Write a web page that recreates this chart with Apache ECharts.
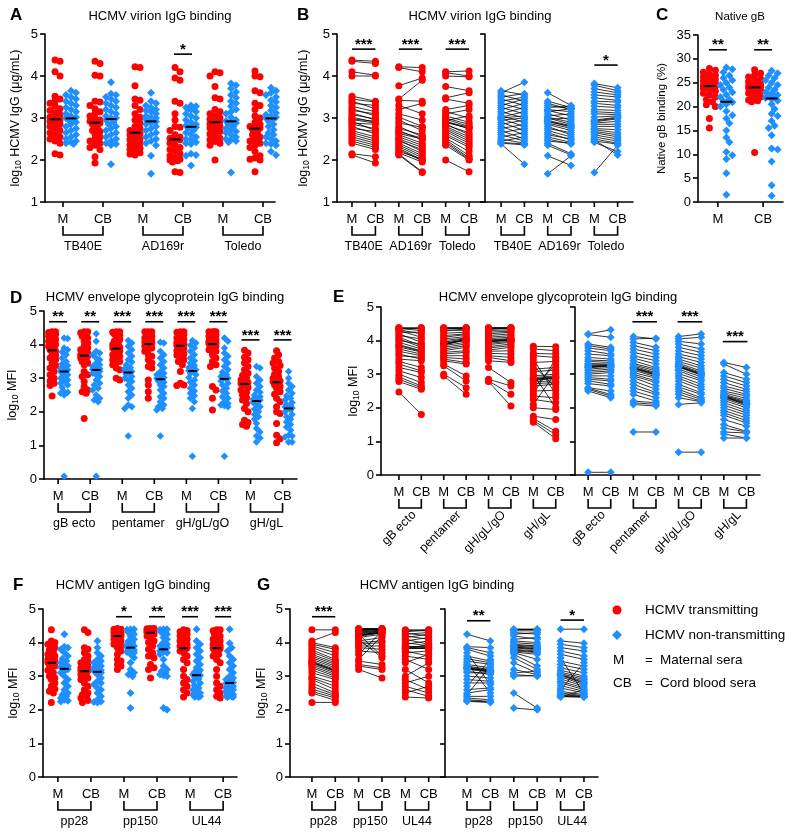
<!DOCTYPE html>
<html><head><meta charset="utf-8">
<script src="https://cdn.jsdelivr.net/npm/echarts@6.0.0/dist/echarts.min.js"></script>
<style>html,body{margin:0;padding:0;background:#fff}#c{width:796px;height:840px}</style>
</head><body><div id="c"></div>
<script>
// ===================== DATA (paired subjects: [maternal, cord blood]) =====================
const virionGroups = ['TB40E', 'AD169r', 'Toledo'];
const tb40eT = [[4.38,4.35],[4.35,4.30],[4.10,4.02],[4.00,4.00],[3.52,3.40],[3.45,3.38],[3.40,3.22],[3.35,3.30],[3.28,3.15],[3.22,3.05],[3.18,3.10],[3.12,2.95],[3.08,2.98],[3.02,2.90],[2.98,2.92],[2.96,2.88],[2.92,2.70],[2.88,2.85],[2.85,2.75],[2.80,2.62],[2.75,2.68],[2.70,2.55],[2.65,2.50],[2.60,2.45],[2.55,2.40],[2.50,2.35],[2.45,2.30],[2.40,2.25],[2.15,2.08],[2.12,1.93]];
const tb40eN = [[3.65,3.55],[3.60,3.85],[3.55,3.40],[3.50,3.58],[3.45,3.30],[3.40,3.50],[3.35,3.20],[3.30,3.45],[3.25,3.10],[3.20,3.35],[3.15,3.00],[3.10,3.25],[3.05,2.90],[3.02,3.15],[3.00,3.05],[2.98,2.80],[2.95,3.00],[2.90,2.70],[2.85,2.95],[2.80,2.60],[2.75,2.85],[2.70,2.50],[2.65,2.75],[2.60,2.45],[2.55,2.65],[2.50,2.40],[2.45,2.55],[2.42,2.38],[2.40,2.36],[2.38,1.90]];
const ad169rT = [[4.22,4.20],[4.20,4.10],[3.77,3.95],[3.45,3.90],[3.42,3.40],[3.30,3.10],[3.20,3.35],[3.10,2.95],[3.02,2.80],[2.95,2.70],[2.88,2.78],[2.80,2.55],[2.75,2.60],[2.70,2.48],[2.67,2.52],[2.63,2.50],[2.60,2.40],[2.55,2.35],[2.50,2.30],[2.48,2.20],[2.45,2.25],[2.40,2.15],[2.36,2.10],[2.32,2.05],[2.28,2.00],[2.25,1.98],[2.20,2.02],[2.17,1.95],[2.14,1.72],[2.12,1.70]];
const ad169rN = [[3.60,3.30],[3.40,3.25],[3.35,3.20],[3.30,3.22],[3.25,3.28],[3.20,3.15],[3.18,3.05],[3.15,3.22],[3.10,2.95],[3.05,3.10],[3.02,2.90],[3.00,2.85],[2.97,3.00],[2.94,2.82],[2.93,2.78],[2.91,2.80],[2.88,2.75],[2.85,2.70],[2.80,2.60],[2.75,2.65],[2.70,2.55],[2.65,2.48],[2.60,2.50],[2.55,2.42],[2.50,2.38],[2.45,2.40],[2.40,2.15],[2.35,2.12],[2.10,1.87],[1.67,2.10]];
const toledoT = [[4.10,4.12],[4.08,4.00],[4.00,3.98],[3.75,3.65],[3.48,3.60],[3.45,3.35],[3.20,3.30],[3.15,3.00],[3.10,3.20],[3.05,2.90],[3.00,2.85],[2.97,2.80],[2.94,3.05],[2.92,2.74],[2.91,2.78],[2.89,2.76],[2.86,2.60],[2.83,2.65],[2.80,2.55],[2.76,2.50],[2.72,2.45],[2.68,2.40],[2.62,2.35],[2.58,2.30],[2.52,2.20],[2.48,2.10],[2.44,2.05],[2.40,2.02],[2.35,2.00],[2.00,1.72]];
const toledoN = [[3.82,3.72],[3.78,3.65],[3.70,3.60],[3.62,3.55],[3.55,3.50],[3.48,3.42],[3.40,3.38],[3.35,3.30],[3.28,3.25],[3.20,3.18],[3.15,3.12],[3.10,3.08],[3.02,3.05],[2.95,3.02],[2.93,3.00],[2.91,2.98],[2.88,2.92],[2.85,2.85],[2.80,2.80],[2.75,2.72],[2.72,2.65],[2.68,2.60],[2.65,2.55],[2.60,2.50],[2.55,2.45],[2.50,2.40],[2.45,2.38],[2.42,2.20],[2.48,2.12],[1.70,2.35]];

// Native gB binding (%)
const nativeGroups = ['M', 'CB'];
const nativeGbT_M  = [28.0,27.6,27.2,26.8,26.5,26.2,25.9,25.6,25.3,25.0,24.8,24.6,24.5,24.4,24.3,24.3,24.2,24.0,23.8,23.5,23.2,22.8,22.4,22.0,21.5,21.0,20.4,20.0,17.5,15.5];
const nativeGbT_CB = [27.7,27.0,26.6,26.2,25.8,25.5,25.2,25.0,24.8,24.6,24.4,24.3,24.2,24.1,24.0,24.0,23.9,23.7,23.5,23.2,23.0,22.8,22.5,22.2,22.0,21.7,21.4,21.2,21.0,10.4];
const nativeGbN_M  = [28.2,27.8,27.2,26.5,26.0,25.5,25.0,24.5,24.0,23.5,23.0,22.5,22.0,21.5,21.1,20.9,20.5,20.0,19.0,18.2,17.5,16.5,15.0,13.5,12.5,10.5,9.8,9.0,6.0,1.5];
const nativeGbN_CB = [27.5,27.0,26.5,26.0,25.5,25.0,24.5,24.0,23.5,23.0,22.8,22.4,22.2,22.0,21.8,21.6,21.2,20.5,19.5,18.5,18.0,17.0,16.0,15.5,14.0,11.2,11.0,8.5,3.5,1.3];

// Envelope glycoproteins (log10 MFI)
const envGroups = ['gB ecto', 'pentamer', 'gH/gL/gO', 'gH/gL'];
const gbEctoT = [[4.38,4.38],[4.38,4.35],[4.36,4.30],[4.35,4.38],[4.32,4.20],[4.30,4.10],[4.25,4.25],[4.20,3.95],[4.15,4.05],[4.10,3.85],[4.05,3.80],[4.00,3.90],[3.95,3.75],[3.88,3.70],[3.85,3.68],[3.81,3.66],[3.75,3.60],[3.68,3.55],[3.60,3.45],[3.55,3.50],[3.45,3.40],[3.38,3.20],[3.30,3.10],[3.20,3.05],[3.10,2.90],[3.00,2.75],[2.92,2.65],[2.85,2.60],[2.78,2.55],[2.47,1.80]];
const gbEctoN = [[4.20,4.32],[4.18,4.10],[3.90,3.80],[3.85,3.75],[3.78,3.70],[3.70,3.60],[3.60,3.55],[3.50,3.45],[3.42,3.40],[3.38,3.35],[3.32,3.30],[3.28,3.28],[3.25,3.27],[3.22,3.26],[3.21,3.25],[3.19,3.24],[3.15,3.20],[3.10,3.15],[3.05,3.10],[3.00,3.05],[2.95,2.95],[2.90,2.85],[2.85,2.80],[2.80,2.70],[2.72,2.65],[2.60,2.50],[2.58,2.40],[2.55,2.35],[2.50,2.30],[0.08,0.08]];
const pentamerT = [[4.38,4.38],[4.38,4.38],[4.37,4.36],[4.35,4.38],[4.32,4.30],[4.28,4.35],[4.22,4.25],[4.15,4.20],[4.10,4.18],[4.05,4.12],[4.00,4.08],[3.95,4.06],[3.92,4.04],[3.90,4.03],[3.89,4.01],[3.87,4.02],[3.85,3.95],[3.80,3.90],[3.75,3.85],[3.70,3.80],[3.65,3.70],[3.60,3.65],[3.55,3.55],[3.50,3.45],[3.45,3.35],[3.40,3.30],[3.30,2.95],[3.25,2.80],[3.00,2.60],[2.95,2.40]];
const pentamerN = [[4.12,4.05],[4.05,4.07],[3.95,3.80],[3.85,3.70],[3.75,3.60],[3.65,3.50],[3.55,3.40],[3.48,3.30],[3.40,3.20],[3.32,3.15],[3.28,3.10],[3.24,3.05],[3.20,3.02],[3.19,3.00],[3.18,2.98],[3.16,2.96],[3.12,2.92],[3.05,2.88],[3.00,2.80],[2.95,2.75],[2.90,2.65],[2.80,2.55],[2.70,2.45],[2.60,2.40],[2.50,2.30],[2.40,2.20],[2.20,2.15],[2.15,2.10],[2.10,2.05],[1.28,1.28]];
const ghglgoT = [[4.38,4.38],[4.38,4.38],[4.37,4.38],[4.36,4.35],[4.33,4.38],[4.30,4.32],[4.25,4.28],[4.20,4.25],[4.15,4.20],[4.10,4.15],[4.06,4.10],[4.02,4.06],[4.00,4.04],[3.98,4.03],[3.97,4.02],[3.96,4.01],[3.92,3.98],[3.88,3.95],[3.82,3.90],[3.78,3.85],[3.72,3.80],[3.68,3.70],[3.62,3.60],[3.55,3.50],[3.50,3.40],[3.40,3.35],[3.20,2.75],[2.85,2.65],[2.80,2.40],[2.78,2.05]];
const ghglgoN = [[4.12,4.20],[4.05,4.10],[3.98,3.90],[3.90,3.75],[3.80,3.65],[3.70,3.55],[3.60,3.45],[3.52,3.35],[3.45,3.25],[3.38,3.18],[3.32,3.10],[3.28,3.05],[3.25,3.02],[3.23,3.00],[3.22,2.99],[3.21,2.97],[3.15,2.92],[3.10,2.85],[3.02,2.80],[2.95,2.70],[2.88,2.62],[2.80,2.55],[2.70,2.45],[2.62,2.40],[2.55,2.30],[2.48,2.25],[2.40,2.20],[2.30,2.18],[2.10,2.15],[0.68,0.68]];
const ghglT = [[3.83,3.82],[3.75,3.70],[3.62,3.60],[3.55,3.50],[3.45,2.40],[3.35,3.38],[3.25,2.60],[3.15,3.20],[3.08,3.12],[3.00,2.00],[2.95,3.00],[2.90,2.95],[2.87,2.92],[2.85,2.90],[2.84,2.89],[2.82,2.87],[2.78,2.80],[2.72,2.75],[2.65,2.70],[2.58,3.30],[2.50,2.52],[2.42,3.45],[2.35,2.30],[2.25,2.15],[2.10,3.05],[2.00,1.95],[1.75,1.65],[1.68,1.30],[1.62,1.20],[1.57,1.08]];
const ghglN = [[3.35,3.20],[3.30,3.00],[3.05,2.85],[2.95,2.75],[2.85,2.65],[2.75,2.55],[2.65,2.48],[2.58,2.40],[2.50,2.35],[2.45,2.28],[2.40,2.22],[2.37,2.18],[2.35,2.15],[2.34,2.12],[2.33,2.11],[2.31,2.09],[2.28,2.05],[2.22,2.00],[2.15,1.92],[2.08,1.85],[2.00,1.78],[1.92,1.70],[1.85,1.62],[1.78,1.55],[1.65,1.45],[1.50,1.30],[1.40,1.28],[1.28,1.25],[1.22,1.10],[1.10,1.10]];

// Antigens (log10 MFI)
const antGroups = ['pp28', 'pp150', 'UL44'];
const pp28T = [[4.38,4.38],[4.05,4.30],[4.00,3.85],[3.95,3.80],[3.90,3.70],[3.85,3.60],[3.78,3.50],[3.72,3.45],[3.65,3.40],[3.60,3.35],[3.55,3.30],[3.50,3.25],[3.45,3.20],[3.42,3.17],[3.41,3.16],[3.39,3.14],[3.35,3.10],[3.30,3.05],[3.25,3.00],[3.18,2.95],[3.10,2.90],[3.00,2.80],[2.95,2.70],[2.90,2.60],[2.80,2.50],[2.70,2.45],[2.62,2.40],[2.55,2.35],[2.50,2.28],[2.22,2.22]];
const pp28N = [[4.25,4.05],[3.88,3.85],[3.85,3.70],[3.80,3.60],[3.70,2.75],[3.60,3.45],[3.52,3.40],[3.45,3.35],[3.40,2.50],[3.35,3.25],[3.30,3.20],[3.27,3.18],[3.25,3.16],[3.24,3.15],[3.23,3.14],[3.21,3.12],[3.15,3.05],[3.10,3.10],[3.00,2.95],[2.90,2.85],[2.80,2.80],[2.70,3.50],[2.60,2.65],[2.50,2.60],[2.45,3.30],[2.40,2.40],[2.35,2.30],[2.30,2.25],[2.27,2.23],[2.25,2.22]];
const pp150T = [[4.42,4.42],[4.40,4.42],[4.40,4.40],[4.38,4.41],[4.37,4.38],[4.35,4.40],[4.33,4.36],[4.30,4.38],[4.28,4.35],[4.26,4.34],[4.25,3.60],[4.23,4.32],[4.22,4.31],[4.21,4.31],[4.20,4.30],[4.19,4.29],[4.15,4.25],[4.10,3.55],[4.05,4.15],[4.00,4.05],[3.95,4.00],[3.90,3.90],[3.85,3.80],[3.75,3.70],[3.65,4.33],[3.50,4.20],[3.45,3.35],[3.35,3.25],[3.30,3.20],[3.20,2.95]];
const pp150N = [[4.40,4.40],[4.40,4.38],[4.38,4.40],[4.35,4.35],[4.30,4.25],[4.25,4.30],[4.20,4.10],[4.10,4.15],[4.05,4.00],[4.00,3.95],[3.95,3.90],[3.92,3.88],[3.90,3.85],[3.87,3.82],[3.86,3.81],[3.84,3.79],[3.80,3.75],[3.78,3.72],[3.75,3.70],[3.72,3.65],[3.70,3.50],[3.65,3.30],[3.55,3.20],[3.40,3.10],[3.20,3.05],[3.05,3.00],[3.00,3.02],[2.50,2.05],[2.05,2.00],[3.10,3.15]];
const ul44T = [[4.38,4.38],[4.36,4.35],[4.32,4.38],[4.28,4.20],[4.25,4.30],[4.20,4.10],[4.15,4.25],[4.10,3.95],[4.05,4.15],[4.00,3.90],[3.95,4.05],[3.90,3.85],[3.88,3.88],[3.85,3.84],[3.84,3.82],[3.82,3.83],[3.80,3.95],[3.75,3.60],[3.70,3.75],[3.60,3.50],[3.50,3.20],[3.40,3.65],[3.20,2.80],[3.00,3.40],[2.90,2.60],[2.80,3.00],[2.70,2.50],[2.60,2.40],[2.50,2.70],[2.38,2.35]];
const ul44N = [[4.40,4.40],[4.05,3.98],[3.95,3.85],[3.85,3.75],[3.75,3.60],[3.65,3.50],[3.55,2.48],[3.45,3.30],[3.35,3.20],[3.25,3.10],[3.18,3.00],[3.12,2.95],[3.08,2.90],[3.05,2.85],[3.04,2.81],[3.02,2.79],[2.98,2.75],[2.92,2.70],[2.85,2.65],[2.80,2.60],[2.72,2.55],[2.65,2.50],[2.60,3.40],[2.55,2.45],[2.50,2.42],[2.45,2.40],[2.42,2.40],[2.40,2.38],[2.39,2.38],[2.38,2.60]];

// Significance annotations: [fromColumn, toColumn, level (axis units), label]
const sigA  = [[3,3,4.52,'*']];
const sigB1 = [[0,1,4.64,'***'],[2,3,4.64,'***'],[4,5,4.64,'***']];
const sigB2 = [[4,5,4.26,'*']];
const sigC  = [[0,0,31.9,'**'],[1,1,31.9,'**']];
const sigD  = [[0,0,4.68,'**'],[1,1,4.68,'**'],[2,2,4.68,'***'],[3,3,4.68,'***'],[4,4,4.68,'***'],[5,5,4.68,'***'],[6,6,4.14,'***'],[7,7,4.14,'***']];
const sigE2 = [[2,3,4.56,'***'],[4,5,4.56,'***'],[6,7,3.97,'***']];
const sigF  = [[2,2,4.77,'*'],[3,3,4.77,'**'],[4,4,4.77,'***'],[5,5,4.77,'***']];
const sigG1 = [[0,1,4.77,'***']];
const sigG2 = [[0,1,4.65,'**'],[4,5,4.67,'*']];

// ===================== STYLE / LAYOUT =====================
const FF = '"Liberation Sans", Arial, Helvetica, sans-serif';
const RED = '#ff0000', BLUE = '#1e8fff';
const LAY = {
  A:  {left:45,  top:34,  width:230, height:168, x:[-0.45,5.3],  y:[1,5,1]},
  B1: {left:337, top:34,  width:148, height:168, x:[-0.64,5.68], y:[1,5,1]},
  B2: {left:485, top:34,  width:148, height:168, x:[-0.69,5.66], y:[1,5,1]},
  C:  {left:698, top:35,  width:85,  height:167, x:[-0.44,1.44], y:[0,35,5]},
  D:  {left:44,  top:311, width:253, height:168, x:[-0.44,7.45], y:[0,5,1]},
  E1: {left:381, top:307, width:194, height:168, x:[-0.8,7.86],  y:[0,5,1]},
  E2: {left:575, top:307, width:185, height:168, x:[-0.58,7.6],  y:[0,5,1]},
  F:  {left:43,  top:609, width:194, height:168, x:[-0.45,5.42], y:[0,5,1]},
  G1: {left:290, top:609, width:155, height:168, x:[-0.94,5.7],  y:[0,5,1]},
  G2: {left:445, top:609, width:153, height:168, x:[-0.94,5.6],  y:[0,5,1]}
};

const option = {animation:false, grid:[], xAxis:[], yAxis:[], series:[], graphic:{elements:[]}};

function T(x, y, s, size, align, va, o) {
  o = o || {};
  return {type:'text', x:x, y:y, rotation:o.rot || 0, silent:true,
    style:{text:s, fill:'#000', font:(o.bold ? 'bold ' : '') + size + 'px ' + FF,
      align:align, verticalAlign:va, textAlign:align, textVerticalAlign:va}};
}

function addGrid(key, yName, nameGap, nameFs, showLabels) {
  const L = LAY[key];
  const i = option.grid.length;
  option.grid.push({left:L.left, top:L.top, width:L.width, height:L.height});
  option.xAxis.push({gridIndex:i, type:'value', min:L.x[0], max:L.x[1],
    axisLine:{show:true, onZero:false, lineStyle:{color:'#000', width:1.6}},
    axisTick:{show:false}, axisLabel:{show:false}, splitLine:{show:false}});
  const y = {gridIndex:i, type:'value', min:L.y[0], max:L.y[1], interval:L.y[2],
    axisLine:{show:true, onZero:false, lineStyle:{color:'#000', width:1.6}},
    axisTick:{show:true, length:5, lineStyle:{color:'#000', width:1.6}},
    axisLabel:{show:showLabels !== false, color:'#000', fontSize:13, fontFamily:FF, margin:7},
    splitLine:{show:false}};
  if (yName) {
    Object.assign(y, {name:yName, nameLocation:'middle', nameRotate:90, nameGap:nameGap,
      nameTextStyle:{color:'#000', fontSize:nameFs || 12.5, fontFamily:FF,
        rich:{s:{fontSize:8.5, fontFamily:FF, color:'#000', verticalAlign:'bottom', padding:[5,0,0,0]}}}});
  }
  option.yAxis.push(y);
  return i;
}

// ticks, M/CB labels, brackets and group names under the x axis
function addXAnno(gi, key, groups, o) {
  o = o || {};
  const ymin = LAY[key].y[0];
  option.series.push({type:'custom', xAxisIndex:gi, yAxisIndex:gi, silent:true, z:6, clip:false,
    data: groups.map((g, k) => [k, ymin]),
    renderItem: (params, api) => {
      const k = api.value(0);
      const pM = api.coord([2 * k, ymin]), pC = api.coord([2 * k + 1, ymin]);
      const y0 = pM[1];
      const ch = [];
      [pM, pC].forEach((p, j) => {
        ch.push({type:'line', shape:{x1:p[0], y1:y0, x2:p[0], y2:y0 + 5}, style:{stroke:'#000', lineWidth:1.6}});
        ch.push(T(p[0], y0 + 17, j ? 'CB' : 'M', 13, 'center', 'middle'));
      });
      if (!o.noBracket) {
        ch.push({type:'polyline', shape:{points:[[pM[0], y0 + 24], [pM[0], y0 + 33], [pC[0], y0 + 33], [pC[0], y0 + 24]]},
          style:{stroke:'#000', fill:'none', lineWidth:1.6}});
        const cx = (pM[0] + pC[0]) / 2;
        if (o.rotate) ch.push(T(cx + 4, y0 + 38, groups[k], 12.5, 'right', 'middle', {rot:Math.PI / 4}));
        else ch.push(T(cx, y0 + 45, groups[k], 12.5, 'center', 'middle'));
      }
      return {type:'group', children:ch};
    }});
}

function addSig(gi, items, ext) {
  option.series.push({type:'custom', xAxisIndex:gi, yAxisIndex:gi, silent:true, z:6, clip:false,
    data: items.map(s => [s[0], s[2]]),
    renderItem: (params, api) => {
      const s = items[params.dataIndex];
      const a = api.coord([s[0], s[2]]), b = api.coord([s[1], s[2]]);
      return {type:'group', children:[
        {type:'line', shape:{x1:a[0] - ext, y1:a[1], x2:b[0] + ext, y2:a[1]}, style:{stroke:'#000', lineWidth:1.6}},
        T((a[0] + b[0]) / 2, a[1] + 3, s[3], 15, 'center', 'bottom', {bold:true})
      ]};
    }});
}

function median(v) {
  const s = v.slice().sort((a, b) => a - b), n = s.length;
  return n % 2 ? s[(n - 1) / 2] : (s[n / 2 - 1] + s[n / 2]) / 2;
}

// simple beeswarm dodge (pixel offsets) computed from the values
function swarm(vals, ppu, cands, minD) {
  const order = vals.map((v, i) => i).sort((a, b) => vals[b] - vals[a]);
  const placed = [], out = new Array(vals.length).fill(0);
  order.forEach(i => {
    const y = vals[i] * ppu;
    let best = cands[0], bestD = -1;
    for (const cx of cands) {
      let dmin = Infinity;
      placed.forEach(p => { const d = Math.hypot(p[0] - cx, p[1] - y); if (d < dmin) dmin = d; });
      if (dmin >= minD) { best = cx; bestD = Infinity; break; }
      if (dmin > bestD) { bestD = dmin; best = cx; }
    }
    out[i] = best; placed.push([best, y]);
  });
  return out;
}

function colsFromPairs(listT, listN) {
  const cols = [];
  listT.forEach((pT, k) => {
    const pN = listN[k];
    cols.push({x:2 * k, t:pT.map(p => p[0]), n:pN.map(p => p[0])});
    cols.push({x:2 * k + 1, t:pT.map(p => p[1]), n:pN.map(p => p[1])});
  });
  return cols;
}

function dotPanel(gi, key, cols, c) {
  const L = LAY[key];
  const ppu = L.height / (L.y[1] - L.y[0]);
  const red = [], blue = [], meds = [];
  cols.forEach(col => {
    [[col.t, -1, red], [col.n, 1, blue]].forEach(([vals, side, arr]) => {
      const dx = swarm(vals, ppu, c.cands, c.minD);
      vals.forEach((v, i) => arr.push({value:[col.x, v], symbolOffset:[side * c.off + dx[i], 0]}));
      meds.push([col.x, median(vals), side]);
    });
  });
  option.series.push({type:'scatter', xAxisIndex:gi, yAxisIndex:gi, silent:true, z:3, data:red,
    symbol:'circle', symbolSize:c.rs, itemStyle:{color:RED, opacity:1}});
  option.series.push({type:'scatter', xAxisIndex:gi, yAxisIndex:gi, silent:true, z:3, data:blue,
    symbol:'diamond', symbolSize:c.bs, itemStyle:{color:BLUE, opacity:1}});
  option.series.push({type:'custom', xAxisIndex:gi, yAxisIndex:gi, silent:true, z:5, data:meds,
    renderItem: (params, api) => {
      const p = api.coord([api.value(0), api.value(1)]);
      const cx = p[0] + api.value(2) * c.off;
      return {type:'line', shape:{x1:cx - c.medW / 2, y1:p[1], x2:cx + c.medW / 2, y2:p[1]},
        style:{stroke:'#000', lineWidth:2}};
    }});
}

function pairedPanel(gi, lists, color, symbol, size) {
  const segs = [], pts = [];
  lists.forEach((pairs, k) => pairs.forEach(p => {
    segs.push([2 * k, p[0], 2 * k + 1, p[1]]);
    pts.push([2 * k, p[0]], [2 * k + 1, p[1]]);
  }));
  option.series.push({type:'custom', xAxisIndex:gi, yAxisIndex:gi, silent:true, z:2, data:segs,
    encode:{x:[0, 2], y:[1, 3]},
    renderItem: (params, api) => {
      const a = api.coord([api.value(0), api.value(1)]), b = api.coord([api.value(2), api.value(3)]);
      return {type:'line', shape:{x1:a[0], y1:a[1], x2:b[0], y2:b[1]}, style:{stroke:'#000', lineWidth:0.8}};
    }});
  option.series.push({type:'scatter', xAxisIndex:gi, yAxisIndex:gi, silent:true, z:3, data:pts,
    symbol:symbol, symbolSize:size, itemStyle:{color:color, opacity:1}});
}

const virName = 'log{s|10} HCMV IgG (\u03bcg/mL)';
const mfiName = 'log{s|10} MFI';

// ---- A
let g = addGrid('A', virName, 22, 12.5);
dotPanel(g, 'A', colsFromPairs([tb40eT, ad169rT, toledoT], [tb40eN, ad169rN, toledoN]),
  {off:8, cands:[0, 2.5, -2.5, 5, -5], minD:5, rs:7, bs:8, medW:11});
addXAnno(g, 'A', virionGroups); addSig(g, sigA, 9);
// ---- B
g = addGrid('B1', virName, 26, 12.5);
pairedPanel(g, [tb40eT, ad169rT, toledoT], RED, 'circle', 7);
addXAnno(g, 'B1', virionGroups); addSig(g, sigB1, 0);
g = addGrid('B2', null, 0, 0, false);
pairedPanel(g, [tb40eN, ad169rN, toledoN], BLUE, 'diamond', 8);
addXAnno(g, 'B2', virionGroups); addSig(g, sigB2, 0);
// ---- C
g = addGrid('C', 'Native gB binding (%)', 30, 11.5);
dotPanel(g, 'C', [{x:0, t:nativeGbT_M, n:nativeGbN_M}, {x:1, t:nativeGbT_CB, n:nativeGbN_CB}],
  {off:8.5, cands:[0, 3, -3, 6, -6], minD:5, rs:7, bs:8, medW:12});
addXAnno(g, 'C', nativeGroups, {noBracket:true}); addSig(g, sigC, 9);
// ---- D
g = addGrid('D', mfiName, 24, 12.5);
dotPanel(g, 'D', colsFromPairs([gbEctoT, pentamerT, ghglgoT, ghglT], [gbEctoN, pentamerN, ghglgoN, ghglN]),
  {off:6, cands:[0, 2, -2, 3.5, -3.5], minD:4.5, rs:7, bs:7.5, medW:9});
addXAnno(g, 'D', envGroups); addSig(g, sigD, 9);
// ---- E
g = addGrid('E1', mfiName, 20, 12.5);
pairedPanel(g, [gbEctoT, pentamerT, ghglgoT, ghglT], RED, 'circle', 7);
addXAnno(g, 'E1', envGroups, {rotate:true});
g = addGrid('E2', null, 0, 0, false);
pairedPanel(g, [gbEctoN, pentamerN, ghglgoN, ghglN], BLUE, 'diamond', 8);
addXAnno(g, 'E2', envGroups, {rotate:true}); addSig(g, sigE2, 1);
// ---- F
g = addGrid('F', mfiName, 22, 12.5);
dotPanel(g, 'F', colsFromPairs([pp28T, pp150T, ul44T], [pp28N, pp150N, ul44N]),
  {off:6.5, cands:[0, 2, -2, 3.5, -3.5], minD:4.5, rs:7, bs:8, medW:9});
addXAnno(g, 'F', antGroups); addSig(g, sigF, 8);
// ---- G
g = addGrid('G1', mfiName, 21, 12.5);
pairedPanel(g, [pp28T, pp150T, ul44T], RED, 'circle', 7);
addXAnno(g, 'G1', antGroups); addSig(g, sigG1, 0);
g = addGrid('G2', null, 0, 0, false);
pairedPanel(g, [pp28N, pp150N, ul44N], BLUE, 'diamond', 8);
addXAnno(g, 'G2', antGroups); addSig(g, sigG2, 0);

// ---- panel letters, titles, legend
const E = option.graphic.elements;
[['A',10,15],['B',297,15],['C',656,15],['D',10,298],['E',333,297],['F',13,585],['G',257,585]]
  .forEach(l => E.push(T(l[1], l[2], l[0], 17, 'left', 'middle', {bold:true})));
[['HCMV virion IgG binding',160,16,13],['HCMV virion IgG binding',480,16,13],['Native gB',740,17,11.5],
 ['HCMV envelope glycoprotein IgG binding',165,297,13],['HCMV envelope glycoprotein IgG binding',558,297,13],
 ['HCMV antigen IgG binding',133,585,13],['HCMV antigen IgG binding',437,585,13]]
  .forEach(t => E.push(T(t[1], t[2], t[0], t[3], 'center', 'middle')));
E.push({type:'circle', shape:{cx:617, cy:610, r:4.5}, style:{fill:RED}, silent:true});
E.push({type:'polygon', shape:{points:[[617,630],[622,635],[617,640],[612,635]]}, style:{fill:BLUE}, silent:true});
E.push(T(645, 610, 'HCMV transmitting', 13.5, 'left', 'middle'));
E.push(T(645, 635, 'HCMV non-transmitting', 13.5, 'left', 'middle'));
E.push(T(613, 660, 'M', 13.5, 'left', 'middle'));
E.push(T(645, 660, '=', 13.5, 'left', 'middle'));
E.push(T(660, 660, 'Maternal sera', 13.5, 'left', 'middle'));
E.push(T(613, 683, 'CB', 13.5, 'left', 'middle'));
E.push(T(645, 683, '=', 13.5, 'left', 'middle'));
E.push(T(660, 683, 'Cord blood sera', 13.5, 'left', 'middle'));

const chart = echarts.init(document.getElementById('c'), null, {renderer:'canvas'});
chart.setOption(option);
</script></body></html>
